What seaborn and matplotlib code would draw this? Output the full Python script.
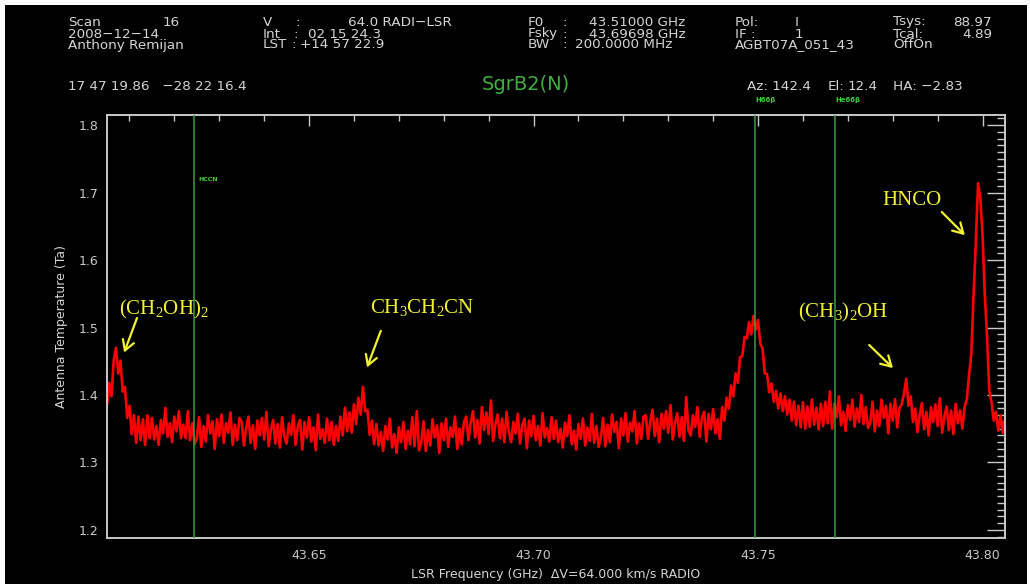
import numpy as np
import pandas as pd
import seaborn as sns
from matplotlib import pyplot as plt
from matplotlib import transforms
from matplotlib.patches import Rectangle
from matplotlib.ticker import FormatStrFormatter, MultipleLocator

# spectrum channels: first channel and spacing in GHz, antenna temperature per channel
chan_start_ghz = 43.605
chan_step_ghz = 0.0005
antenna_temp = [
    1.385, 1.418, 1.398, 1.452, 1.470, 1.432, 1.451, 1.405, 1.412, 1.366, 1.384, 1.342, 1.370, 1.329, 1.368, 1.333, 1.364, 1.326, 1.370, 1.336,  # 43.605
    1.366, 1.334, 1.354, 1.326, 1.363, 1.343, 1.381, 1.338, 1.358, 1.330, 1.368, 1.346, 1.376, 1.336, 1.356, 1.336, 1.376, 1.333, 1.358, 1.327,  # 43.615
    1.336, 1.367, 1.323, 1.354, 1.331, 1.370, 1.343, 1.361, 1.320, 1.364, 1.339, 1.371, 1.329, 1.358, 1.344, 1.374, 1.326, 1.356, 1.333, 1.366,  # 43.625
    1.360, 1.325, 1.351, 1.368, 1.329, 1.355, 1.320, 1.362, 1.340, 1.366, 1.334, 1.375, 1.324, 1.348, 1.363, 1.328, 1.357, 1.322, 1.367, 1.338,  # 43.635
    1.328, 1.358, 1.341, 1.370, 1.326, 1.354, 1.363, 1.319, 1.360, 1.337, 1.367, 1.331, 1.352, 1.318, 1.371, 1.335, 1.349, 1.329, 1.365, 1.333,  # 43.645
    1.360, 1.326, 1.354, 1.332, 1.368, 1.340, 1.381, 1.346, 1.374, 1.344, 1.386, 1.357, 1.396, 1.371, 1.412, 1.376, 1.378, 1.341, 1.362, 1.327,  # 43.655
    1.357, 1.325, 1.345, 1.317, 1.354, 1.334, 1.365, 1.322, 1.342, 1.314, 1.352, 1.330, 1.360, 1.320, 1.347, 1.327, 1.367, 1.324, 1.376, 1.318,  # 43.665
    1.330, 1.361, 1.317, 1.348, 1.325, 1.364, 1.337, 1.355, 1.314, 1.358, 1.333, 1.365, 1.323, 1.352, 1.338, 1.368, 1.320, 1.350, 1.327, 1.360,  # 43.675
    1.368, 1.333, 1.359, 1.376, 1.337, 1.363, 1.328, 1.382, 1.348, 1.374, 1.342, 1.392, 1.332, 1.356, 1.371, 1.336, 1.365, 1.330, 1.375, 1.346,  # 43.685
    1.330, 1.360, 1.343, 1.372, 1.328, 1.356, 1.365, 1.321, 1.362, 1.339, 1.369, 1.333, 1.354, 1.325, 1.373, 1.337, 1.351, 1.331, 1.367, 1.335,  # 43.695
    1.362, 1.330, 1.350, 1.322, 1.359, 1.339, 1.370, 1.327, 1.347, 1.319, 1.357, 1.335, 1.365, 1.325, 1.352, 1.332, 1.372, 1.329, 1.354, 1.323,  # 43.705
    1.337, 1.366, 1.324, 1.356, 1.330, 1.371, 1.345, 1.360, 1.321, 1.365, 1.340, 1.373, 1.331, 1.359, 1.346, 1.376, 1.328, 1.358, 1.335, 1.368,  # 43.715
    1.370, 1.335, 1.361, 1.378, 1.339, 1.365, 1.330, 1.372, 1.350, 1.376, 1.344, 1.385, 1.334, 1.358, 1.373, 1.338, 1.367, 1.332, 1.397, 1.348,  # 43.725
    1.340, 1.370, 1.353, 1.382, 1.338, 1.366, 1.375, 1.331, 1.372, 1.349, 1.379, 1.343, 1.364, 1.335, 1.382, 1.362, 1.396, 1.380, 1.414, 1.398,  # 43.735
    1.432, 1.418, 1.456, 1.458, 1.486, 1.484, 1.508, 1.490, 1.517, 1.497, 1.511, 1.476, 1.469, 1.432, 1.431, 1.404, 1.417, 1.390, 1.406, 1.380,  # 43.745
    1.402, 1.376, 1.398, 1.371, 1.393, 1.362, 1.390, 1.355, 1.384, 1.352, 1.389, 1.350, 1.383, 1.353, 1.393, 1.356, 1.381, 1.349, 1.387, 1.354,  # 43.755
    1.390, 1.358, 1.405, 1.350, 1.387, 1.367, 1.398, 1.355, 1.375, 1.347, 1.385, 1.363, 1.393, 1.353, 1.380, 1.360, 1.400, 1.357, 1.382, 1.351,  # 43.765
    1.359, 1.390, 1.346, 1.377, 1.354, 1.393, 1.366, 1.384, 1.343, 1.387, 1.362, 1.394, 1.352, 1.381, 1.386, 1.402, 1.424, 1.384, 1.398, 1.360,  # 43.775
    1.380, 1.345, 1.371, 1.388, 1.349, 1.375, 1.340, 1.382, 1.360, 1.386, 1.354, 1.395, 1.344, 1.368, 1.383, 1.348, 1.377, 1.342, 1.387, 1.358,  # 43.785
    1.377, 1.350, 1.382, 1.394, 1.430, 1.460, 1.548, 1.625, 1.714, 1.692, 1.637, 1.549, 1.488, 1.406, 1.389, 1.362, 1.375, 1.347, 1.370, 1.344,  # 43.795
    1.365,
]

# catalogue lines drawn as vertical markers
marker_names = ["HCCN", "H66β", "He66β"]
marker_freqs = [43.6244, 43.7493, 43.7671]

# labelled species: label, text anchor (freq, temp), arrow tail, arrow head
species_labels = ["(CH$_2$OH)$_2$", "CH$_3$CH$_2$CN", "(CH$_3$)$_2$OH", "HNCO"]
species_text_xy = [(43.6077, 1.527), (43.6636, 1.530), (43.7589, 1.523), (43.7778, 1.689)]
species_arrow_from = [(43.6119, 1.518), (43.6662, 1.499), (43.7743, 1.477), (43.7905, 1.674)]
species_arrow_to = [(43.6086, 1.459), (43.6627, 1.437), (43.7805, 1.437), (43.7965, 1.634)]

W, H = 1030, 584
GREY = "#d4d4d4"

sns.set_theme(style="dark", rc={
    "axes.facecolor": "black",
    "figure.facecolor": "black",
    "axes.edgecolor": "#c8c8c8",
    "axes.grid": False,
    "text.color": GREY,
    "axes.labelcolor": GREY,
    "xtick.color": "#c8c8c8",
    "ytick.color": "#c8c8c8",
})
plt.rcParams["font.family"] = ["DejaVu Sans"]
plt.rcParams["mathtext.default"] = "regular"

df = pd.DataFrame({"temp": antenna_temp})
df["freq"] = chan_start_ghz + chan_step_ghz * np.arange(len(df))

fig = plt.figure(figsize=(W / 100, H / 100), dpi=100)
fig.patch.set_facecolor("white")
fig.patches.append(Rectangle((5 / W, 0), 1 - 8 / W, 1 - 5 / H, transform=fig.transFigure,
                             facecolor="black", edgecolor="none", zorder=-10))
ax = fig.add_axes([107 / W, (H - 538) / H, 898 / W, 423 / H])

sns.lineplot(data=df, x="freq", y="temp", ax=ax, color="#ff0000", lw=1.9,
             estimator=None, sort=False, zorder=2)

for f in marker_freqs:
    ax.axvline(f, color="#3c9b3c", lw=1.3, alpha=0.85, zorder=3)
blend = transforms.blended_transform_factory(ax.transData, ax.transAxes)
ax.text(marker_freqs[0] + 0.0009, 1.719, marker_names[0], color="#36d236", fontsize=4.5,
        fontweight="bold", va="center")
for name, f in zip(marker_names[1:], marker_freqs[1:]):
    ax.text(f + 0.0002, 1.035, name, color="#36d236", fontsize=5, fontweight="bold",
            va="center", transform=blend, clip_on=False)

for lab, txy, a0, a1 in zip(species_labels, species_text_xy, species_arrow_from, species_arrow_to):
    ax.text(txy[0], txy[1], lab, color="#f2f230", fontsize=15, family="Liberation Serif",
            va="center", ha="left", zorder=5)
    ax.annotate("", xy=a1, xytext=a0,
                arrowprops=dict(arrowstyle="->,head_length=0.6,head_width=0.35",
                                color="#f2f230", lw=1.6), zorder=5)

ax.set_xlim(43.605, 43.805)
ax.set_ylim(1.188, 1.815)
ax.xaxis.set_major_locator(MultipleLocator(0.05))
ax.xaxis.set_minor_locator(MultipleLocator(0.01))
ax.xaxis.set_major_formatter(FormatStrFormatter("%.2f"))
ax.yaxis.set_major_locator(MultipleLocator(0.1))
ax.yaxis.set_minor_locator(MultipleLocator(0.01))
ax.yaxis.set_major_formatter(FormatStrFormatter("%.1f"))
ax.tick_params(axis="both", which="both", direction="in", top=True, right=True, width=1.0)
ax.tick_params(axis="x", which="major", length=8, pad=8, labelsize=9)
ax.tick_params(axis="x", which="minor", length=4.5)
ax.tick_params(axis="y", which="major", length=13, pad=6, labelsize=9)
ax.tick_params(axis="y", which="minor", length=5.5)
for sp in ax.spines.values():
    sp.set_linewidth(1.4)

ax.set_xlabel("LSR Frequency (GHz)  ΔV=64.000 km/s RADIO", fontsize=9)
ax.set_ylabel("Antenna Temperature (Ta)", fontsize=9)
ax.xaxis.set_label_coords(0.5, -0.072)
ax.yaxis.set_label_coords(-0.043, 0.5)

# header block
header = [
    (68, 22, "Scan"), (163, 22, "16"),
    (68, 34, "2008−12−14"),
    (68, 45, "Anthony Remijan"),
    (263, 22, "V"), (295, 22, ":"), (348, 22, "64.0 RADI−LSR"),
    (263, 34, "Int"), (293, 34, ":"), (308, 34, "02 15 24.3"),
    (263, 45, "LST"), (291, 45, ":"), (300, 45, "+14 57 22.9"),
    (528, 22, "F0"), (562, 22, ":"), (589, 22, "43.51000 GHz"),
    (528, 34, "Fsky"), (562, 34, ":"), (589, 34, "43.69698 GHz"),
    (528, 45, "BW"), (562, 45, ":"), (575, 45, "200.0000 MHz"),
    (735, 22, "Pol:"), (795, 22, "I"),
    (735, 34, "IF :"), (795, 34, "1"),
    (735, 45, "AGBT07A_051_43"),
    (893, 22, "Tsys:"), (893, 34, "Tcal:"), (893, 45, "OffOn"),
    (68, 87, "17 47 19.86   −28 22 16.4"),
    (747, 86, "Az: 142.4"), (828, 86, "El:"), (848, 86, "12.4"), (893, 86, "HA: −2.83"),
]
for x, y, s in header:
    fig.text(x / W, 1 - y / H, s, color=GREY, fontsize=9.7, va="center", ha="left")
for x, y, s in [(992, 22, "88.97"), (992, 34, "4.89")]:
    fig.text(x / W, 1 - y / H, s, color=GREY, fontsize=9.7, va="center", ha="right")
fig.text(526 / W, 1 - 84 / H, "SgrB2(N)", color="#3fae3f", fontsize=14, va="center", ha="center")

fig.savefig("out.png", dpi=100, facecolor=fig.get_facecolor())
